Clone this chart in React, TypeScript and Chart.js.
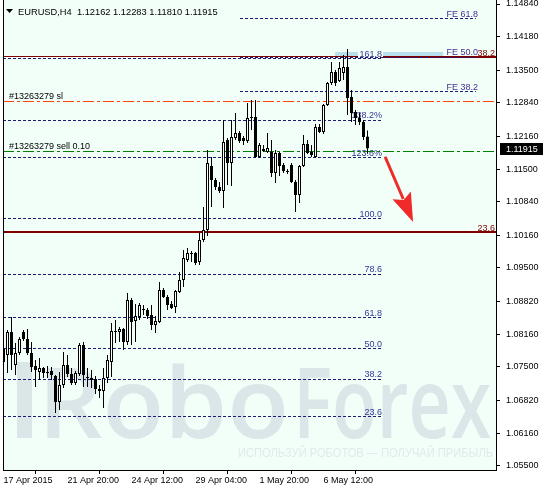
import React, { useEffect, useRef } from "react";
import { Chart, registerables } from "chart.js";

Chart.register(...registerables);

// ---------- data ----------
const symbolTitle = "EURUSD,H4";
const timeLabels = ["17 Apr 2015", "21 Apr 20:00", "24 Apr 12:00", "29 Apr 04:00", "1 May 20:00", "6 May 12:00"];
const timeLabelBars = [0, 16, 32, 48, 64, 80];
const priceTicks = [1.055, 1.0616, 1.0682, 1.075, 1.0816, 1.0882, 1.095, 1.1016, 1.1084, 1.115, 1.1216, 1.1284, 1.135, 1.1418, 1.1484];

const opens = [
  1.07860, 1.07739, 1.08204, 1.07537, 1.07779, 1.08204, 1.08063, 1.07779, 1.07516, 1.07395,
  1.07476, 1.07395, 1.07415, 1.07314, 1.06788, 1.07132, 1.07537, 1.07355, 1.07172, 1.07355,
  1.07941, 1.07294, 1.07274, 1.07253, 1.07051, 1.07011, 1.07274, 1.07597, 1.08224, 1.08204,
  1.08265, 1.08002, 1.08852, 1.08427, 1.08508, 1.08649, 1.08649, 1.08548, 1.08346, 1.08407,
  1.09054, 1.08912, 1.08771, 1.08710, 1.09014, 1.09256, 1.09661, 1.09803, 1.09803, 1.09621,
  1.10066, 1.10268, 1.11563, 1.11279, 1.11138, 1.11057, 1.12089, 1.11623, 1.12129, 1.12230,
  1.12129, 1.12068, 1.12534, 1.12554, 1.11745, 1.11866, 1.11846, 1.11846, 1.11421, 1.11826,
  1.11583, 1.11462, 1.11583, 1.11239, 1.10976, 1.11563, 1.12008, 1.11846, 1.11745, 1.12352,
  1.12250, 1.12797, 1.13242, 1.13464, 1.13282, 1.13444, 1.13566, 1.12959, 1.12655, 1.12534,
  1.12453, 1.12162,
];
const highs = [
  1.08042, 1.08245, 1.08508, 1.07982, 1.08103, 1.08245, 1.08265, 1.08002, 1.07638, 1.07678,
  1.07496, 1.07516, 1.07496, 1.07334, 1.07395, 1.07800, 1.07739, 1.07476, 1.07415, 1.07982,
  1.08002, 1.07476, 1.07436, 1.07314, 1.07132, 1.07476, 1.07739, 1.08386, 1.08447, 1.08305,
  1.08285, 1.08993, 1.08892, 1.08771, 1.08791, 1.08751, 1.08690, 1.08751, 1.08528, 1.09216,
  1.09095, 1.08953, 1.08831, 1.09054, 1.09418, 1.09863, 1.09904, 1.09843, 1.09823, 1.10207,
  1.10733, 1.11886, 1.11745, 1.11320, 1.11239, 1.12493, 1.12129, 1.12493, 1.12635, 1.12271,
  1.12170, 1.12837, 1.12898, 1.12898, 1.12028, 1.11987, 1.12230, 1.12089, 1.11886, 1.11846,
  1.11623, 1.11502, 1.11623, 1.11279, 1.11583, 1.12190, 1.12089, 1.11987, 1.12412, 1.12412,
  1.12817, 1.13262, 1.13667, 1.13505, 1.13667, 1.13808, 1.13930, 1.13100, 1.12696, 1.12635,
  1.12493, 1.12283,
];
const lows = [
  1.07557, 1.07375, 1.07436, 1.07334, 1.07739, 1.08022, 1.07739, 1.07395, 1.07092, 1.07233,
  1.07274, 1.07274, 1.07233, 1.06566, 1.06626, 1.07071, 1.07294, 1.07132, 1.07132, 1.07314,
  1.07092, 1.07092, 1.07071, 1.06950, 1.06869, 1.06667, 1.07172, 1.07294, 1.07982, 1.08002,
  1.07840, 1.07941, 1.07941, 1.08002, 1.08447, 1.08548, 1.08467, 1.08245, 1.08184, 1.08386,
  1.08892, 1.08649, 1.08670, 1.08589, 1.08993, 1.09115, 1.09621, 1.09621, 1.09560, 1.09560,
  1.10025, 1.10147, 1.10733, 1.11077, 1.11016, 1.10713, 1.11178, 1.11158, 1.12089, 1.12028,
  1.11987, 1.12028, 1.12291, 1.11724, 1.11724, 1.11846, 1.11826, 1.11340, 1.11219, 1.11360,
  1.11421, 1.11401, 1.11219, 1.10632, 1.10814, 1.11542, 1.11805, 1.11745, 1.11724, 1.12230,
  1.12210, 1.12776, 1.13201, 1.13181, 1.13262, 1.13303, 1.12594, 1.12453, 1.12392, 1.12392,
  1.12089, 1.11810,
];
const closes = [
  1.07597, 1.08204, 1.07739, 1.07779, 1.08063, 1.08063, 1.07779, 1.07496, 1.07436, 1.07476,
  1.07375, 1.07375, 1.07334, 1.06788, 1.07132, 1.07537, 1.07355, 1.07172, 1.07375, 1.07941,
  1.07334, 1.07274, 1.07233, 1.07051, 1.07011, 1.07274, 1.07638, 1.08224, 1.08204, 1.08265,
  1.08002, 1.08852, 1.08407, 1.08528, 1.08751, 1.08655, 1.08528, 1.08346, 1.08427, 1.09054,
  1.08912, 1.08751, 1.08690, 1.09034, 1.09256, 1.09701, 1.09803, 1.09782, 1.09600, 1.10066,
  1.10268, 1.11623, 1.11279, 1.11138, 1.11057, 1.12048, 1.11623, 1.12149, 1.12230, 1.12068,
  1.12068, 1.12534, 1.12554, 1.11745, 1.11987, 1.11907, 1.11927, 1.11421, 1.11826, 1.11563,
  1.11462, 1.11441, 1.11239, 1.10976, 1.11563, 1.12008, 1.11826, 1.11785, 1.12352, 1.12250,
  1.12797, 1.13242, 1.13464, 1.13242, 1.13545, 1.13566, 1.12938, 1.12635, 1.12534, 1.12453,
  1.12149, 1.11915,
];

const fibLabels = ["0.0", "23.6", "38.2", "50.0", "61.8", "78.6", "100.0", "123.6%", "138.2%", "161.8"];
const fibPrices = [1.05271, 1.06508, 1.07273, 1.07891, 1.08509, 1.09390, 1.10511, 1.11748, 1.12513, 1.13751];
const feLabels = ["FE 38.2", "FE 50.0", "FE 61.8"];
const fePrices = [1.13060, 1.13758, 1.14537];
const retraceLabels = ["23.6", "38.2"];
const retracePrices = [1.10228, 1.13768];
const orderLabels = ["#13263279 sl", "#13263279 sell 0.10"];
const orderPrices = [1.12860, 1.11850];
const watermarkWords = ["Robo", "Forex"];
const watermarkSlogan = "ИСПОЛЬЗУЙ РОБОТОВ — ПОЛУЧАЙ ПРИБЫЛЬ";

// ---------- layout / style ----------
const Y_MIN = 1.05413;
const Y_MAX = 1.14921;
const X_MIN = -0.125;
const X_MAX = 123.125;
const FONT = '"Liberation Sans", Arial, sans-serif';
const BG = "#f2fff8";
const NAVY = "#1c1c78";
const FIB_TXT = "#373796";
const FE_TXT = "#4a2d8f";
const MAROON = "#800000";
const WM = "#dbe6e8";
const ORDER_COLORS = ["#ff4500", "#008000"];

function hline(ctx: CanvasRenderingContext2D, y: number, x0: number, x1: number, color: string, width: number) {
  const yy = Math.round(y - width / 2);
  ctx.save();
  ctx.fillStyle = color;
  ctx.fillRect(Math.round(x0), yy, Math.round(x1) - Math.round(x0), width);
  ctx.restore();
}

// pixel-exact pattern line drawn with filled rectangles
function patternLine(ctx: CanvasRenderingContext2D, y: number, x0: number, x1: number, color: string, pattern: number[]) {
  const yy = Math.round(y - 0.5);
  ctx.save();
  ctx.fillStyle = color;
  let x = Math.round(x0);
  let k = 0;
  while (x < x1) {
    const len = pattern[k % pattern.length];
    if (k % 2 === 0) ctx.fillRect(x, yy, Math.min(len, x1 - x), 1);
    x += len;
    k++;
  }
  ctx.restore();
}

function label(ctx: CanvasRenderingContext2D, text: string, x: number, y: number, color: string, align: CanvasTextAlign) {
  ctx.save();
  ctx.font = `9px ${FONT}`;
  ctx.fillStyle = color;
  ctx.textAlign = align;
  ctx.textBaseline = "alphabetic";
  ctx.fillText(text, x, y);
  ctx.restore();
}

function fitText(ctx: CanvasRenderingContext2D, text: string, x0: number, x1: number, baseline: number) {
  const w = ctx.measureText(text).width;
  ctx.save();
  ctx.translate(x0, baseline);
  ctx.scale((x1 - x0) / w, 1);
  ctx.fillText(text, 0, 0);
  ctx.restore();
}

const overlay = {
  id: "overlay",
  beforeDraw(chart: any) {
    const { ctx, chartArea: a } = chart;
    ctx.save();
    ctx.fillStyle = "#ffffff";
    ctx.fillRect(0, 0, chart.width, chart.height);
    ctx.fillStyle = BG;
    ctx.fillRect(a.left, a.top, a.right - a.left, a.bottom - a.top);
    ctx.restore();
  },
  beforeDatasetsDraw(chart: any) {
    const { ctx, chartArea: a, scales } = chart;
    const X = (v: number) => scales.x.getPixelForValue(v);
    const Y = (v: number) => scales.y.getPixelForValue(v);
    ctx.save();
    ctx.beginPath();
    ctx.rect(a.left, a.top, a.right - a.left, a.bottom - a.top);
    ctx.clip();

    // watermark
    ctx.save();
    ctx.fillStyle = WM;
    ctx.fillRect(17, 362, 15, 76);
    ctx.font = `600 98px "Open Sans", "Liberation Sans", sans-serif`;
    ctx.textBaseline = "alphabetic";
    fitText(ctx, watermarkWords[0], 38, 289, 438);
    fitText(ctx, watermarkWords[1], 293, 491, 438);
    ctx.fillStyle = "#e0eaec";
    ctx.font = `13px ${FONT}`;
    fitText(ctx, watermarkSlogan, 238, 493, 457);
    ctx.restore();

    // light-blue selection marks near FE 50.0
    const fe50 = Y(fePrices[1]);
    ctx.fillStyle = "#b8e0ec";
    ctx.fillRect(X(82.9), fe50 - 5.5, X(88.6) - X(82.9), 5);
    ctx.fillRect(X(94.9), fe50 - 5.5, X(109.9) - X(94.9), 5);

    // maroon retracement lines
    hline(ctx, Y(retracePrices[1]), a.left, X(88.6), MAROON, 1);
    hline(ctx, Y(retracePrices[1]), X(94.9), a.right, MAROON, 2);
    hline(ctx, Y(retracePrices[0]), a.left, a.right, MAROON, 2);

    // fibonacci levels
    fibPrices.forEach((p, i) => {
      const yy = Y(p);
      patternLine(ctx, yy + 1, a.left, X(94.6), NAVY, [3, 2]);
      label(ctx, fibLabels[i], X(94.6), yy - 1, FIB_TXT, "right");
    });
    fePrices.forEach((p, i) => {
      const yy = Y(p);
      patternLine(ctx, yy, X(59.1), X(118.1), NAVY, [3, 2]);
      label(ctx, feLabels[i], X(118.6), yy - 2, FE_TXT, "right");
    });

    // order lines (dash-dot)
    orderPrices.forEach((p, i) => {
      const yy = Y(p);
      patternLine(ctx, yy, a.left, a.right, ORDER_COLORS[i], [11, 3, 3, 3]);
      label(ctx, orderLabels[i], 9, yy - 3, "#000000", "left");
    });
    ctx.restore();

    // right maroon labels
    retracePrices.forEach((p, i) => {
      label(ctx, retraceLabels[i], 495, Y(p) - 1, MAROON, "right");
    });
  },
  afterDatasetsDraw(chart: any) {
    const { ctx, scales } = chart;
    const X = (v: number) => scales.x.getPixelForValue(v);
    const Y = (v: number) => scales.y.getPixelForValue(v);
    // red arrow
    const x0 = X(95.4), y0 = Y(1.1175), x1 = X(102.4), y1 = Y(1.1043);
    const dx = x1 - x0, dy = y1 - y0, len = Math.hypot(dx, dy);
    const ux = dx / len, uy = dy / len;
    const headLen = 29, headW = 10;
    const bx = x1 - ux * headLen, by = y1 - uy * headLen;
    ctx.save();
    ctx.strokeStyle = "#ee2a2a";
    ctx.fillStyle = "#ee2a2a";
    ctx.lineWidth = 3;
    ctx.beginPath();
    ctx.moveTo(x0, y0);
    ctx.lineTo(bx + ux * 4, by + uy * 4);
    ctx.stroke();
    ctx.beginPath();
    ctx.moveTo(x1, y1);
    ctx.lineTo(bx - uy * headW, by + ux * headW);
    ctx.lineTo(bx + ux * 5, by + uy * 5);
    ctx.lineTo(bx + uy * headW, by - ux * headW);
    ctx.closePath();
    ctx.fill();
    ctx.restore();
  },
  afterDraw(chart: any) {
    const { ctx, chartArea: a, scales } = chart;
    const Y = (v: number) => scales.y.getPixelForValue(v);
    ctx.save();
    // left border
    ctx.fillStyle = "#000";
    ctx.fillRect(Math.round(a.left), a.top, 1, a.bottom - a.top);
    // title
    ctx.beginPath();
    ctx.moveTo(6, 9);
    ctx.lineTo(13, 9);
    ctx.lineTo(9.5, 13);
    ctx.closePath();
    ctx.fill();
    const n = closes.length - 1;
    const title = `${symbolTitle}  ${opens[n].toFixed(5)} ${highs[n].toFixed(5)} ${lows[n].toFixed(5)} ${closes[n].toFixed(5)}`;
    ctx.font = `9.3px ${FONT}`;
    ctx.textBaseline = "alphabetic";
    ctx.fillText(title, 18, 15);
    // current price box
    const cy = Y(closes[n]);
    ctx.fillStyle = "#000";
    ctx.fillRect(500, Math.round(cy) - 6, 43, 12);
    ctx.fillStyle = "#fff";
    ctx.font = `9px ${FONT}`;
    ctx.textBaseline = "middle";
    ctx.fillText(closes[n].toFixed(5), 506, Math.round(cy) + 0.5);
    ctx.restore();
  },
};

export default function App() {
  const ref = useRef<HTMLCanvasElement>(null);
  useEffect(() => {
    document.body.style.margin = "0";
    const wickData = lows.map((l, i) => ({ x: i, y: [l, highs[i]] }));
    const bodyData = opens.map((o, i) => ({ x: i, y: [o, closes[i]] }));
    const bodyColors = opens.map((o, i) => (closes[i] >= o ? "#ffffff" : "#000000"));
    const tickFont = { family: FONT, size: 9 };
    const chart = new Chart(ref.current as HTMLCanvasElement, {
      type: "bar",
      data: {
        datasets: [
          { data: wickData as any, backgroundColor: "#000000", borderWidth: 0, barThickness: 1, grouped: false, inflateAmount: 0, order: 2 } as any,
          { data: bodyData as any, backgroundColor: bodyColors, borderColor: "#000000", borderWidth: 1, borderSkipped: false, barThickness: 3, grouped: false, minBarLength: 1, inflateAmount: 0, order: 1 } as any,
        ],
      },
      options: {
        responsive: false,
        animation: false,
        devicePixelRatio: 1,
        events: [],
        layout: { padding: { left: 3, top: 0, right: 0, bottom: 0 } },
        plugins: { legend: { display: false }, tooltip: { enabled: false } },
        scales: {
          x: {
            type: "linear",
            min: X_MIN,
            max: X_MAX,
            offset: false,
            position: "bottom",
            afterBuildTicks: (s: any) => {
              s.ticks = timeLabelBars.map((v) => ({ value: v }));
            },
            afterFit: (s: any) => {
              s.height = 18;
              s.paddingLeft = 0; s.paddingRight = 0; s.paddingTop = 0; s.paddingBottom = 0;
            },
            ticks: {
              autoSkip: false,
              maxRotation: 0,
              minRotation: 0,
              align: "start",
              padding: 1,
              color: "#000",
              font: tickFont,
              callback: (_v: any, idx: number) => timeLabels[idx],
            },
            grid: { drawOnChartArea: false, drawTicks: true, tickLength: 4, color: "#000", tickColor: "#000" },
            border: { display: true, color: "#000", width: 1 },
          } as any,
          y: {
            type: "linear",
            position: "right",
            min: Y_MIN,
            max: Y_MAX,
            afterBuildTicks: (s: any) => {
              s.ticks = priceTicks.map((v) => ({ value: v }));
            },
            afterFit: (s: any) => {
              s.width = 47;
              s.paddingLeft = 0; s.paddingRight = 0; s.paddingTop = 0; s.paddingBottom = 0;
            },
            ticks: {
              padding: 6,
              color: "#000",
              font: tickFont,
              callback: (v: any) => Number(v).toFixed(5),
            },
            grid: { drawOnChartArea: false, drawTicks: true, tickLength: 4, color: "#000", tickColor: "#000" },
            border: { display: true, color: "#000", width: 1 },
          } as any,
        },
      },
      plugins: [overlay as any],
    });
    return () => chart.destroy();
  }, []);
  return <canvas ref={ref} width={543} height={488} style={{ display: "block", width: 543, height: 488 }} />;
}
